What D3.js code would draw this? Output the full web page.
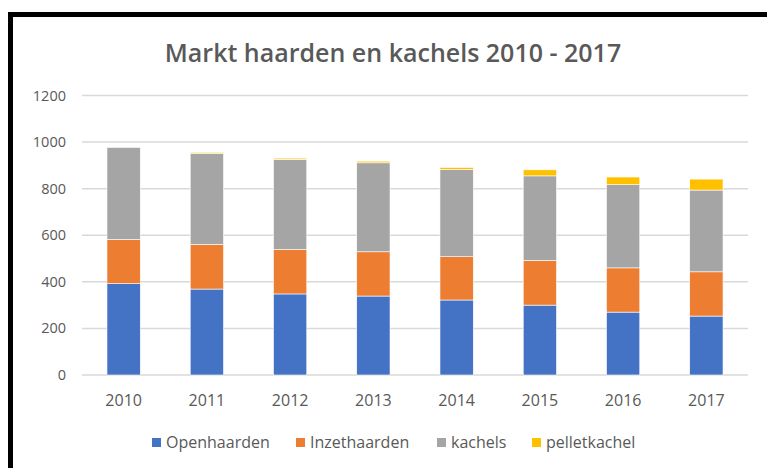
<!DOCTYPE html>
<html>
<head>
<meta charset="utf-8">
<script src="https://cdn.jsdelivr.net/npm/d3@7"></script>
<style>
  body { margin: 0; background: #fff; }
  text { font-family: "Open Sans", "Noto Sans", sans-serif; }
</style>
</head>
<body>
<svg id="chart" width="767" height="468"></svg>
<script>
// data
var years = ["2010", "2011", "2012", "2013", "2014", "2015", "2016", "2017"];
var seriesNames = ["Openhaarden", "Inzethaarden", "kachels", "pelletkachel"];
var openhaarden = [392, 369, 348, 339, 322, 300, 270, 253];
var inzethaarden = [190, 192, 191, 190, 186, 192, 190, 190];
var kachels = [395, 390, 387, 382, 375, 363, 357, 351];
var pelletkachel = [0, 5, 5, 7, 8, 26, 33, 47];
var yTicks = [0, 200, 400, 600, 800, 1000, 1200];
var colors = ["#4472c4", "#ed7d31", "#a5a5a5", "#ffc000"];

var rows = years.map(function(y, i) {
  return { year: y, Openhaarden: openhaarden[i], Inzethaarden: inzethaarden[i],
           kachels: kachels[i], pelletkachel: pelletkachel[i] };
});

var svg = d3.select("#chart");

// frame (runs off the right / bottom edge in the original)
svg.append("rect")
  .attr("x", 10.5).attr("y", 14.5)
  .attr("width", 800).attr("height", 500)
  .attr("fill", "none").attr("stroke", "#000").attr("stroke-width", 5);

svg.append("text")
  .attr("x", 393).attr("y", 62)
  .attr("text-anchor", "middle")
  .attr("font-size", 25).attr("font-weight", 600)
  .attr("fill", "#595959")
  .text("Markt haarden en kachels 2010 - 2017");

var x = d3.scaleBand().domain(years).range([82, 748]).paddingInner(0.6).paddingOuter(0.3);
var y = d3.scaleLinear().domain([0, 1200]).range([375, 95.5]);

// gridlines
svg.append("g").selectAll("line")
  .data(yTicks)
  .enter().append("line")
  .attr("x1", 82).attr("x2", 748)
  .attr("y1", function(d) { return y(d); })
  .attr("y2", function(d) { return y(d); })
  .attr("stroke", "#d9d9d9").attr("stroke-width", 1.5);

// y labels
svg.append("g").selectAll("text")
  .data(yTicks)
  .enter().append("text")
  .attr("x", 66)
  .attr("y", function(d) { return y(d) + 5; })
  .attr("text-anchor", "end")
  .attr("font-size", 14.5).attr("fill", "#595959")
  .text(function(d) { return d; });

var stacked = d3.stack().keys(seriesNames)(rows);

svg.append("g").selectAll("g")
  .data(stacked)
  .enter().append("g")
  .attr("fill", function(d, i) { return colors[i]; })
  .selectAll("rect")
  .data(function(d) { return d; })
  .enter().append("rect")
  .attr("x", function(d) { return x(d.data.year); })
  .attr("width", x.bandwidth())
  .attr("y", function(d) { return y(d[1]); })
  .attr("height", function(d) { return y(d[0]) - y(d[1]); })
  .attr("stroke", "#fff").attr("stroke-width", 0.6);

// x labels
svg.append("g").selectAll("text")
  .data(years)
  .enter().append("text")
  .attr("x", function(d) { return x(d) + x.bandwidth() / 2; })
  .attr("y", 406)
  .attr("text-anchor", "middle")
  .attr("font-size", 16).attr("fill", "#595959")
  .text(function(d) { return d; });

// legend
var legendX = [152, 296, 437, 532];
var lg = svg.append("g").selectAll("g")
  .data(seriesNames)
  .enter().append("g")
  .attr("transform", function(d, i) { return "translate(" + legendX[i] + ",438)"; });
lg.append("rect")
  .attr("width", 9).attr("height", 9)
  .attr("fill", function(d, i) { return colors[i]; });
lg.append("text")
  .attr("x", 14).attr("y", 9.5)
  .attr("font-size", 16).attr("fill", "#595959")
  .text(function(d) { return d; });
</script>
</body>
</html>
